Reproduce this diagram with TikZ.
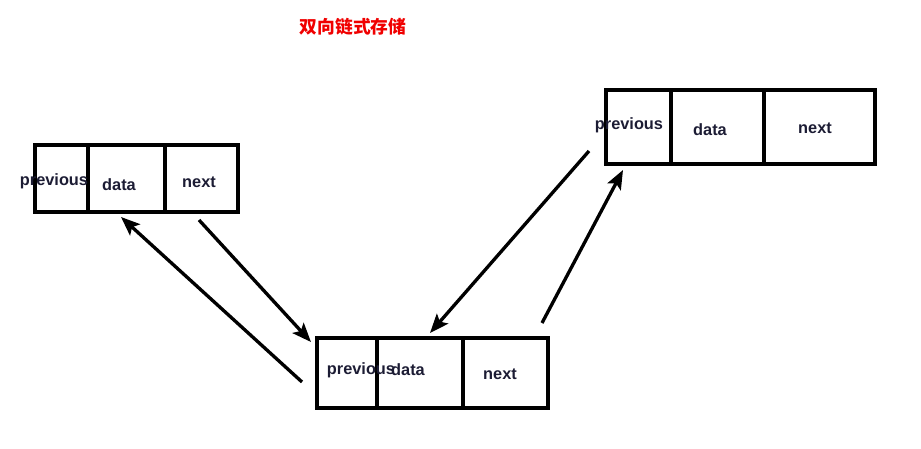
\documentclass[tikz,border=0pt]{standalone}
\usepackage{fontspec}
\setmainfont{Liberation Sans}
\newfontfamily\cjk{Noto Sans CJK SC}
\usetikzlibrary{arrows.meta}
\definecolor{ink}{HTML}{1C1C34}
\definecolor{titlered}{HTML}{F00000}
\tikzset{
  cell/.style={rectangle,draw=black,line width=2.1pt,inner sep=0pt,outer sep=0pt,anchor=north west},
  field/.style={font=\fontsize{9.3}{11}\selectfont\bfseries,text=ink,inner sep=0pt},
  heading/.style={font=\fontsize{10.1}{12}\selectfont\cjk\bfseries,text=titlered},
  link/.style={-{Stealth[length=3.8mm,width=3mm,inset=0.8mm]},line width=1.9pt,black}
}

\begin{document}
\begin{tikzpicture}[x=0.02cm,y=-0.02cm]
  \useasboundingbox (0,0) rectangle (921,449);
  \node[heading] (head) at (353,27) {双向链式存储};
  % left element
  \node[cell,minimum width=1.06cm,minimum height=1.34cm] (prevA) at (35,145) {};
  \node[cell,minimum width=1.54cm,minimum height=1.34cm] (dataA) at (prevA.north east) {};
  \node[cell,minimum width=1.46cm,minimum height=1.34cm] (nextA) at (dataA.north east) {};
  \node[field] (prevAtext) at (54,181) {previous};
  \node[field] (dataAtext) at (119,185) {data};
  \node[field] (nextAtext) at (199,182) {next};
  % middle element
  \node[cell,minimum width=1.2cm,minimum height=1.4cm] (prevB) at (317,338) {};
  \node[cell,minimum width=1.72cm,minimum height=1.4cm] (dataB) at (prevB.north east) {};
  \node[cell,minimum width=1.7cm,minimum height=1.4cm] (nextB) at (dataB.north east) {};
  \node[field] (prevBtext) at (361,370) {previous};
  \node[field] (dataBtext) at (408,370) {data};
  \node[field] (nextBtext) at (500,374) {next};
  % right element
  \node[cell,minimum width=1.3cm,minimum height=1.48cm] (prevC) at (606,90) {};
  \node[cell,minimum width=1.86cm,minimum height=1.48cm] (dataC) at (prevC.north east) {};
  \node[cell,minimum width=2.22cm,minimum height=1.48cm] (nextC) at (dataC.north east) {};
  \node[field] (prevCtext) at (629,125) {previous};
  \node[field] (dataCtext) at (710,130) {data};
  \node[field] (nextCtext) at (815,128) {next};
  % links
  \coordinate (fromA) at (199,220);
  \coordinate (toB) at (311,342);
  \coordinate (fromB) at (302,382);
  \coordinate (toA) at (121,217);
  \coordinate (fromC) at (589,151);
  \coordinate (toBdata) at (430,333);
  \coordinate (fromBnext) at (542,323);
  \coordinate (toC) at (623,170);
  \draw[link] (fromA) -- (toB);
  \draw[link] (fromB) -- (toA);
  \draw[link] (fromC) -- (toBdata);
  \draw[link] (fromBnext) -- (toC);
\end{tikzpicture}
\end{document}
